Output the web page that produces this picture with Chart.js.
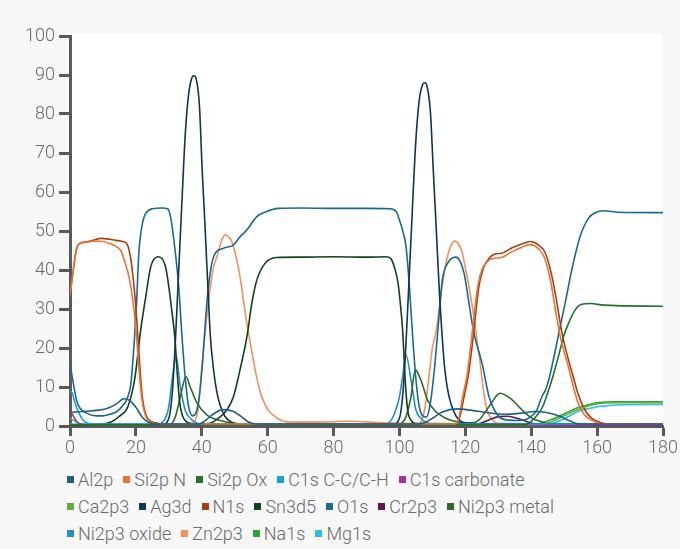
<!DOCTYPE html>
<html>
<head>
<meta charset="utf-8">
<script src="https://cdn.jsdelivr.net/npm/chart.js@4/dist/chart.umd.min.js"></script>
<style>
  html, body { margin: 0; padding: 0; background: #f7f7f7; }
  body { width: 680px; height: 549px; position: relative; overflow: hidden;
         font-family: Roboto, "Liberation Sans", sans-serif; }
  #wrap { position: absolute; left: 0; top: 0; width: 680px; height: 462px; }
  #legend { position: absolute; left: 67px; top: 466px; width: 600px;
            font-size: 18px; font-weight: 300; color: #6a6a6a; line-height: 27px; }
  .row { display: flex; white-space: nowrap; }
  .item { display: inline-flex; align-items: center; margin-right: 10px; }
  .box { width: 7px; height: 7px; margin-right: 4px; }
</style>
</head>
<body>
<div id="wrap"><canvas id="chart" width="680" height="462"></canvas></div>
<div id="legend"></div>
<script>
// Depth profile: atomic concentration (%) against sputter time.
const xTicks = [0, 20, 40, 60, 80, 100, 120, 140, 160, 180];
const yTicks = [0, 10, 20, 30, 40, 50, 60, 70, 80, 90, 100];

const seriesNames = ["Al2p", "Si2p N", "Si2p Ox", "C1s C-C/C-H", "C1s carbonate",
  "Ca2p3", "Ag3d", "N1s", "Sn3d5", "O1s", "Cr2p3", "Ni2p3 metal",
  "Ni2p3 oxide", "Zn2p3", "Na1s", "Mg1s"];

const seriesColors = ["#1f5f80", "#e8743b", "#22722e", "#1b9dd9", "#a4339c",
  "#5fae3c", "#0f3550", "#a3420f", "#11401d", "#1a6a90", "#5c1a55", "#2e6a25",
  "#2b8dc4", "#f0915f", "#2aa43a", "#2bbbec"];

// how many legend entries go on each line
const legendRows = [5, 7, 4];

// Each series: [time, concentration] pairs
const al2p = [[0,3.5],[2,3.6],[5,3.8],[8,4],[11,4.4],[14,5.6],[16.4,7],[18,6.6],[20,4.8],[22,2.2],[24,0.9],[26,0.5],[39,0.5],[41,1.3],[43,2.8],[46.6,4.2],[49.5,3.8],[52,2.4],[54,1.1],[57,0.5],[106,0.5],[108,1],[110,2],[113,3.6],[117.5,4.4],[122,4],[127,3.4],[132,3],[137,3.3],[141,3.7],[145,3.4],[149,2.4],[152,1.2],[155,0.5],[180,0.5]];

const si2pN = [[0,33.5],[1,40],[2,45.5],[3,46.8],[5,47.2],[7.3,47.4],[10,47.3],[12,46.8],[14,46],[15.4,45],[16.5,42.5],[17.9,38.3],[19.2,31.5],[20.2,23],[21,14],[21.8,7],[23,2.5],[24.5,1],[27,0.5],[117,0.5],[118,2],[119.2,7.5],[120.6,13.5],[122.1,24],[123.6,35],[125,40],[127,42.4],[129,43],[131,43.2],[134,44.6],[137,45.8],[139.7,46.5],[142,45.6],[144,43.2],[145.8,37.5],[147.3,30],[148.8,23],[150.3,18],[151.5,14.5],[152.8,10],[154.3,5.8],[156,3],[158.3,1.5],[161,0.6],[180,0.5]];

const si2pOx = [[0,0.3],[138,0.3],[140,1.2],[142,3],[143.5,5],[145,8.5],[146.5,12.5],[148.3,18],[149.8,22.9],[151.3,26.3],[153.3,29.7],[155.3,31.2],[158,31.4],[162,31],[180,30.7]];

const c1sCC = [[0,9],[0.7,8.4],[1.5,6],[2.5,3.7],[4,1.5],[5.5,0.7],[8,0.5],[180,0.5]];

const c1sCarb = [[0,4],[1,2.6],[2,1.2],[3,0.5],[6,0.3],[180,0.3]];

const ca2p3 = [[0,2],[1,1.5],[2.5,0.8],[4,0.4],[142,0.3],[146,1.1],[150,2.6],[153,3.8],[156,4.8],[159,5.5],[162,5.9],[166,6],[180,6]];

const ag3d = [[0,0.3],[28,0.3],[30,2],[31,8],[32,22],[33,40],[34,58],[35,75],[36,85],[37,89.3],[37.6,89.8],[38.3,89],[39.3,82],[40.1,66],[41,51],[42,33],[42.6,23],[43.5,15],[44.5,9],[45.5,5.5],[47,2.5],[49,1],[52,0.5],[98,0.4],[100,2],[101,8],[102,21.5],[103,39],[104,57],[105,73.5],[106,83.5],[107,87.5],[107.7,88],[108.4,87],[109.4,80.5],[110.3,65],[111.2,50],[112.2,33],[112.8,25],[113.7,15],[114.7,9],[115.7,5.5],[117.2,2.5],[119,1],[122,0.5],[180,0.3]];

const n1s = [[0,33.5],[1,40],[2,45.5],[3,46.8],[5,47.2],[7,47.6],[9.4,48.1],[12,47.9],[14,47.6],[16,47.3],[17.4,46.5],[18.2,44],[18.9,40],[19.9,31.5],[20.6,23],[21.3,14],[22,7],[23,3],[24,1.5],[26,0.8],[28,0.5],[117,0.5],[118.2,2],[119.6,7.5],[121,13.5],[122.6,24.6],[124.1,35.7],[125.5,40.5],[127.2,43],[129,44.1],[131,44.3],[134.2,45.7],[138.2,47],[139.7,47.3],[142.2,46.4],[144.3,44.3],[146.3,38.3],[147.8,31.5],[149.3,24],[150.8,18.5],[152.3,14],[154.3,8],[156.3,4.1],[158.3,2],[160.4,1.1],[163,0.5],[180,0.5]];

const sn3d5 = [[0,0.3],[10,0.5],[12.6,1.1],[15,2.5],[17.6,5],[19.6,11.8],[20.4,17],[21.2,23],[23,33.2],[24.5,40.8],[26.7,43.4],[29,40.8],[30,35.7],[31,28.9],[31.8,22.9],[32.6,13],[33.3,6],[34.2,2.5],[35.5,1],[38,0.5],[42,0.6],[44.6,1.7],[47.6,4.1],[49.6,7.5],[51.6,14.4],[53.7,22.9],[55.2,31.5],[56.7,37.4],[59.2,41.7],[62.7,43.2],[70,43.3],[80,43.4],[90,43.3],[96,43.4],[97.5,42.8],[98.7,40],[99.5,37],[100.2,32],[101,24],[101.8,11],[102.5,4],[103.5,1.5],[105,0.6],[180,0.4]];

const o1s = [[0,16],[1,11],[2,6.5],[3,4.6],[5,3.3],[8,2.6],[10,2.6],[12,3],[14,3.6],[16,5.2],[17.5,7.4],[18.5,11],[19.6,22.9],[20.2,31.5],[20.9,44.3],[22,52],[23,54.5],[25,55.7],[28,55.9],[29.6,55.7],[30.5,53.7],[32,44.3],[33,35.7],[34,22.9],[35,12],[36,5],[37.3,2.6],[38.3,3.5],[39.3,8],[40.3,17],[41.2,28],[42.2,37],[43.6,43.4],[46.6,45.6],[49.6,46.4],[51.6,48.5],[53.7,50.3],[56.7,53.7],[59.7,55],[63.2,55.8],[70,55.9],[80,55.8],[90,55.8],[97,55.7],[99,55],[100,52.8],[101,50],[102,46],[103,36],[104,23],[105,12],[106,5],[107.2,2.5],[108.2,2.3],[109.2,5],[110.3,12],[111.5,22.9],[113,37.4],[114.6,41.7],[117.1,43.3],[119.6,39.2],[121.1,31.5],[122.6,23.8],[125.1,16],[127.2,7.5],[130.2,2.4],[133,1.5],[136,1.4],[139.2,2],[141.7,4.1],[143.2,7.5],[144.3,9.2],[145.3,11.8],[146.6,16.5],[148.3,23.5],[150.3,31.5],[152.3,40],[154.8,48.5],[157.4,53.3],[160.4,55],[162,55.2],[166.4,54.8],[180,54.7]];

const cr2p3 = [[0,0.2],[120,0.2],[124,0.6],[127,1.5],[130,2.4],[133,2.5],[136,1.9],[139,1],[142,0.4],[180,0.2]];

const ni2p3Metal = [[0,0.2],[30,0.3],[31,0.8],[32,2.4],[33.5,7.5],[35.2,12.7],[36.5,10],[38.6,5.8],[41.6,2.8],[45.6,1.4],[50,0.6],[55,0.4],[100,0.4],[101,1],[102,2.4],[103.5,7.5],[104.8,14.4],[106.5,11.8],[108.5,6.7],[111,3.7],[114,2],[118,1],[122,0.8],[124.1,1.5],[127.2,5],[130.5,8.4],[134.2,6.7],[137.2,4.1],[140.2,2],[143.2,1.1],[146,0.5],[180,0.3]];

const ni2p3Oxide = [[0,0.3],[27,0.3],[28,1],[29,2],[30,5],[31,11.8],[32.2,17.9],[33.5,10],[35,4],[36.5,2],[38,1],[40,0.5],[96,0.5],[97.5,1.5],[98.5,3.2],[100,7.5],[101,13],[102,18.2],[103.5,11.8],[105,4.1],[106.5,2],[108,1],[110,0.5],[180,0.3]];

const zn2p3 = [[0,0.3],[36,0.4],[37,0.8],[38,1.5],[39,5],[40.1,16],[41.1,24.6],[42.5,35],[43.5,40.5],[44.6,43.4],[46,47.5],[47.1,49],[48,48.6],[49.1,47.3],[50.5,43],[51.6,38.3],[53.2,28.9],[54.4,22.9],[56.2,14.4],[57.7,8.8],[58.7,6.5],[60,4.2],[61.7,2.8],[63.7,1.6],[66,1],[75,1],[85,1.2],[95,0.8],[106,0.6],[107,2],[108,6],[109,13],[110,20],[111.2,24.5],[112,29.7],[113,36],[114.1,41.7],[115.5,46],[116.9,47.4],[118,46.6],[119.1,44.3],[120,40.5],[121.1,35.7],[122.6,28],[123.6,21.5],[124.4,17],[125.1,11.8],[125.8,7.5],[126.6,4.1],[128,1.8],[130,0.7],[180,0.4]];

const na1s = [[0,0.3],[140,0.3],[144.3,1.1],[147,2],[150.3,3.2],[153,4.3],[155.3,5],[158,5.6],[160.4,6],[165.4,6.2],[180,6.2]];

const mg1s = [[0,0.5],[145,0.5],[150.3,2],[153,3.2],[155.3,4.1],[158.3,4.6],[160.4,5],[162.4,5.1],[165.4,5.4],[180,5.5]];

const seriesData = [al2p, si2pN, si2pOx, c1sCC, c1sCarb, ca2p3, ag3d, n1s,
  sn3d5, o1s, cr2p3, ni2p3Metal, ni2p3Oxide, zn2p3, na1s, mg1s];

const datasets = seriesNames.map((name, i) => ({
  label: name,
  data: seriesData[i].map(p => ({ x: p[0], y: p[1] })),
  borderColor: seriesColors[i],
  backgroundColor: seriesColors[i],
  borderWidth: 1.6,
  pointRadius: 0,
  fill: false,
  cubicInterpolationMode: 'monotone',
  tension: 0.4
}));

// white plot area on the grey page
const plotBackground = {
  id: 'plotBackground',
  beforeDraw(chart) {
    const a = chart.chartArea, ctx = chart.ctx;
    ctx.save();
    ctx.fillStyle = '#ffffff';
    ctx.fillRect(a.left, a.top - 2, a.right - a.left, a.bottom - a.top + 2);
    ctx.restore();
  }
};

const axisColor = '#5a5a5a';
const tickFont = { family: 'Roboto, "Liberation Sans", sans-serif', size: 18, weight: '300' };

new Chart(document.getElementById('chart'), {
  type: 'line',
  data: { datasets },
  plugins: [plotBackground],
  options: {
    responsive: false,
    animation: false,
    devicePixelRatio: 1,
    layout: { padding: { top: 36, right: 15, left: 0, bottom: 0 } },
    plugins: { legend: { display: false }, tooltip: { enabled: false } },
    scales: {
      x: {
        type: 'linear', min: 0, max: 180,
        afterBuildTicks: s => { s.ticks = xTicks.map(v => ({ value: v })); },
        afterFit: s => { s.height = 36; },
        grid: { drawOnChartArea: false, drawTicks: true, tickLength: 10, tickColor: axisColor, tickWidth: 3 },
        border: { display: true, color: axisColor, width: 3 },
        ticks: { color: '#6a6a6a', font: tickFont, padding: 2, maxRotation: 0 }
      },
      y: {
        type: 'linear', min: 0, max: 100,
        afterBuildTicks: s => { s.ticks = yTicks.map(v => ({ value: v })); },
        afterFit: s => { s.width = 70; },
        grid: { drawOnChartArea: false, drawTicks: true, tickLength: 11, tickColor: axisColor, tickWidth: 3 },
        border: { display: true, color: axisColor, width: 3 },
        ticks: { color: '#6a6a6a', font: tickFont, padding: 4 }
      }
    }
  }
});

// legend, laid out in fixed lines
const legend = document.getElementById('legend');
let k = 0;
legendRows.forEach(count => {
  const row = document.createElement('div');
  row.className = 'row';
  for (let j = 0; j < count; j++, k++) {
    const item = document.createElement('span');
    item.className = 'item';
    const box = document.createElement('span');
    box.className = 'box';
    box.style.background = seriesColors[k];
    item.appendChild(box);
    item.appendChild(document.createTextNode(seriesNames[k]));
    row.appendChild(item);
  }
  legend.appendChild(row);
});
</script>
</body>
</html>
